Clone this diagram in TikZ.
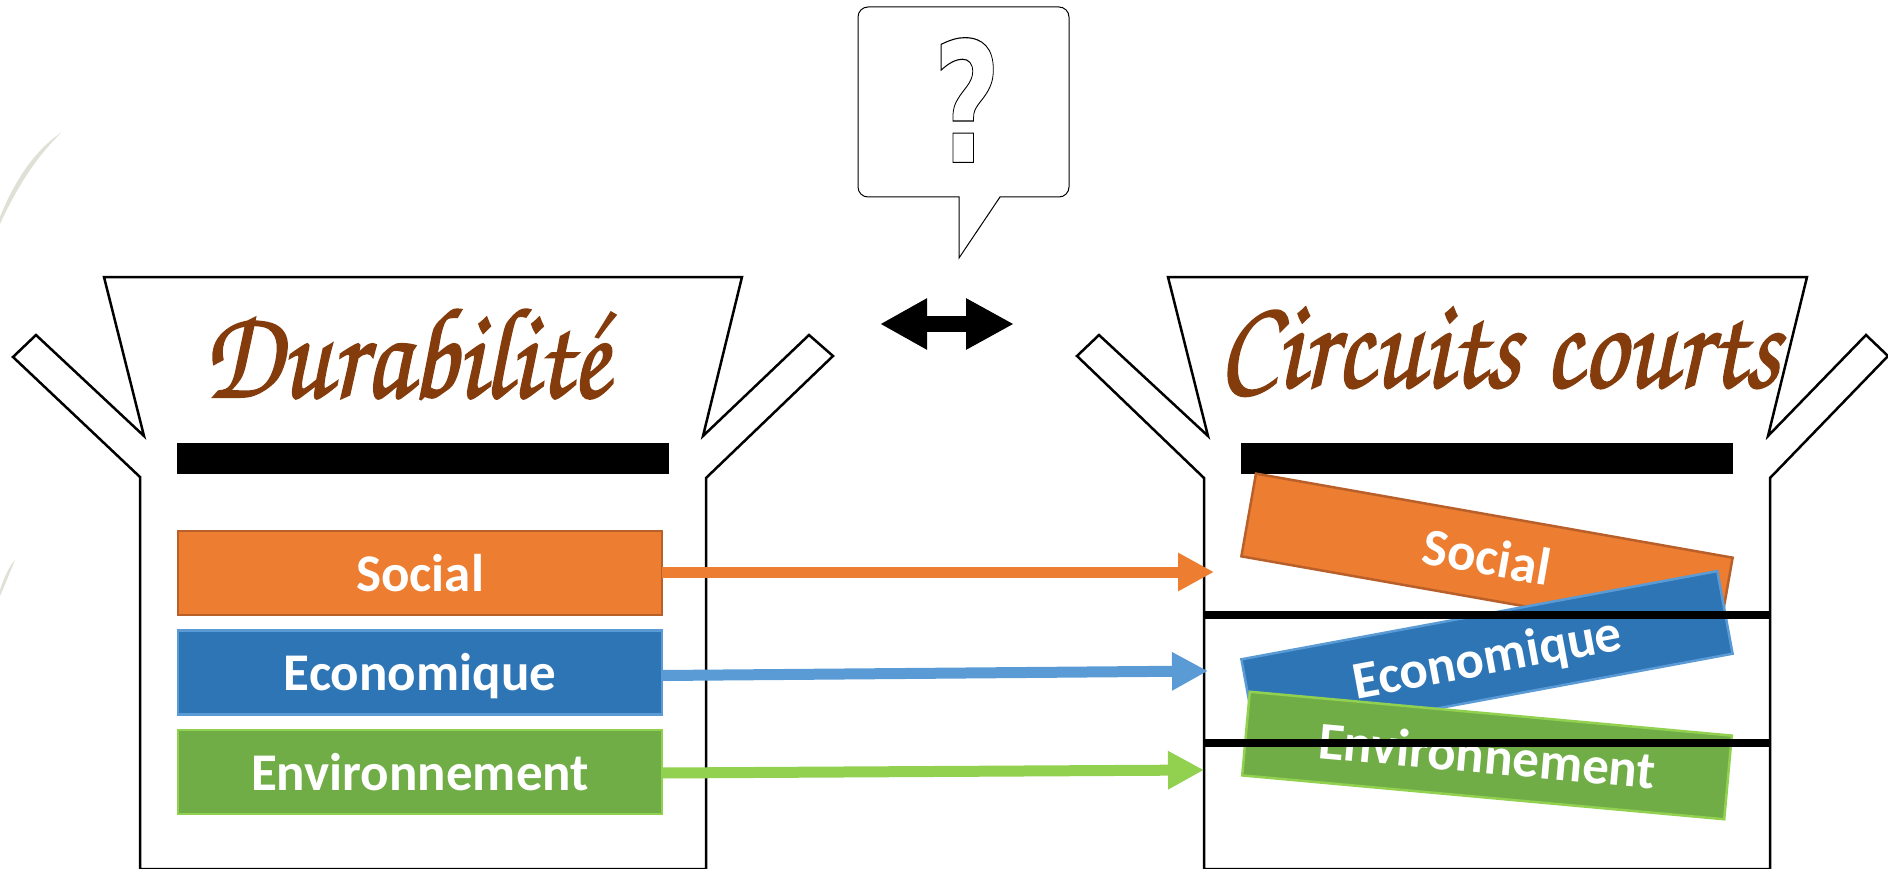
\documentclass[tikz,border=0pt]{standalone}
\usepackage[T1]{fontenc}
\usepackage{fontspec}
\usepackage{xcolor}
\setsansfont{Carlito}
\newfontfamily\qfont{DejaVu Sans}
\usetikzlibrary{arrows.meta}
\definecolor{titlebrown}{HTML}{843C0C}
\definecolor{socfill}{HTML}{ED7D31}
\definecolor{socline}{HTML}{B9602A}
\definecolor{ecofill}{HTML}{2E75B6}
\definecolor{ecoline}{HTML}{5B9BD5}
\definecolor{envfill}{HTML}{70AD47}
\definecolor{envline}{HTML}{92D050}
\definecolor{markgrey}{HTML}{DDE1D6}
\newcommand{\pillarfont}{\fontsize{53}{55}\selectfont\sffamily\bfseries}
\newcommand{\titlefont}{\usefont{T1}{pzc}{mb}{it}\fontsize{110}{112}\selectfont}
\newcommand{\thicktitle}[1]{\scalebox{1}[1.18]{\special{pdf:code 2 Tr 1.6 w}#1\special{pdf:code 0 Tr 1 w}}}
\begin{document}
\begin{tikzpicture}[
  x=1pt, y=-1pt,
  every node/.style={inner sep=0pt, outer sep=0pt},
  carton/.style={draw, line width=2.5pt, miter limit=20, fill=white},
  lidbar/.style={fill=black, minimum width=492pt, minimum height=31pt},
  shelf/.style={line width=8pt},
  pillar/.style={line width=2.5pt, minimum width=484pt, minimum height=84pt, text height=36pt, text depth=0pt, text=white, font=\pillarfont},
  social/.style={pillar, draw=socline, fill=socfill},
  eco/.style={pillar, draw=ecoline, fill=ecofill},
  env/.style={pillar, draw=envline, fill=envfill},
  link/.style={line width=11pt, -{Triangle[length=36pt,width=36pt]}},
  title/.style={text=titlebrown, font=\titlefont},
  thin shape/.style={draw, line width=1pt}
]
\useasboundingbox (0,0) rectangle (1888,869);

% faint marks on the left edge
\fill[markgrey] (0,217) .. controls (15,180) and (35,150) .. (62,132) .. controls (38,155) and (18,185) .. (0,224) -- cycle;
\fill[markgrey] (0,590) .. controls (4,578) and (8,568) .. (15,560) .. controls (10,572) and (5,585) .. (0,596) -- cycle;

% question bubble
\draw[thin shape, rounded corners=10pt] (959,197) -- (858,197) -- (858,7) -- (1069,7) -- (1069,197) -- (1012,197)
  [sharp corners] -- (1000,197) -- (959,258) -- cycle;
\node (qmark) at (967,100) {\scalebox{0.78}[1.12]{\fontsize{150}{150}\selectfont\qfont\bfseries\special{pdf:code 1 Tr 1 w}?\special{pdf:code 0 Tr}}};

% double arrow
\coordinate (arrowl) at (880,324);
\coordinate (arrowr) at (1014,324);
\draw[line width=16pt, {Triangle[length=47pt,width=48pt]}-{Triangle[length=48pt,width=48pt]}] (arrowl) -- (arrowr);

% left box
\draw[carton] (140,869) -- (140,477) -- (13,357) -- (36,335) -- (144,436) -- (104,277) -- (742,277) -- (703,436)
  -- (809,335) -- (833,356) -- (706,478) -- (706,869) -- cycle;
\node[title] (durabilite) at (406,352) {\thicktitle{Durabilité}};
\node[lidbar] (lidl) at (422.5,458.5) {};
\node[social] (socl) at (420,573) {Social};
\node[eco] (ecol) at (420,672.5) {Economique};
\node[env] (envl) at (420,772) {Environnement};

% right box
\draw[carton] (1204,869) -- (1204,478) -- (1077,356) -- (1099,335) -- (1208,436) -- (1168,277) -- (1807,277) -- (1768,436)
  -- (1866,335) -- (1888,356) -- (1770,478) -- (1770,869) -- cycle;
\node[title] (circuits) at (1499,348) {\thicktitle{Circuits courts}};
\node[lidbar] (lidr) at (1486.5,458.5) {};
\node[social, rotate=-10] (socr) at (1487,557) {Social};
\node[eco, rotate=10.5] (ecor) at (1487,656.5) {Economique};
\node[env, rotate=-5.2] (envr) at (1487,755.5) {Environnement};
\coordinate (shelfa) at (1204,615);
\coordinate (shelfb) at (1770,615);
\coordinate (shelfc) at (1204,743);
\coordinate (shelfd) at (1770,743);
\draw[shelf] (shelfa) -- (shelfb);
\draw[shelf] (shelfc) -- (shelfd);

% links between the boxes
\coordinate (tips) at (1214,572);
\coordinate (tipe) at (1208,671);
\coordinate (tipv) at (1204,770);
\draw[link, socfill] ([yshift=1pt]socl.east) -- (tips);
\draw[link, ecoline] ([yshift=-3pt]ecol.east) -- (tipe);
\draw[link, envline] ([yshift=-1pt]envl.east) -- (tipv);
\end{tikzpicture}
\end{document}
